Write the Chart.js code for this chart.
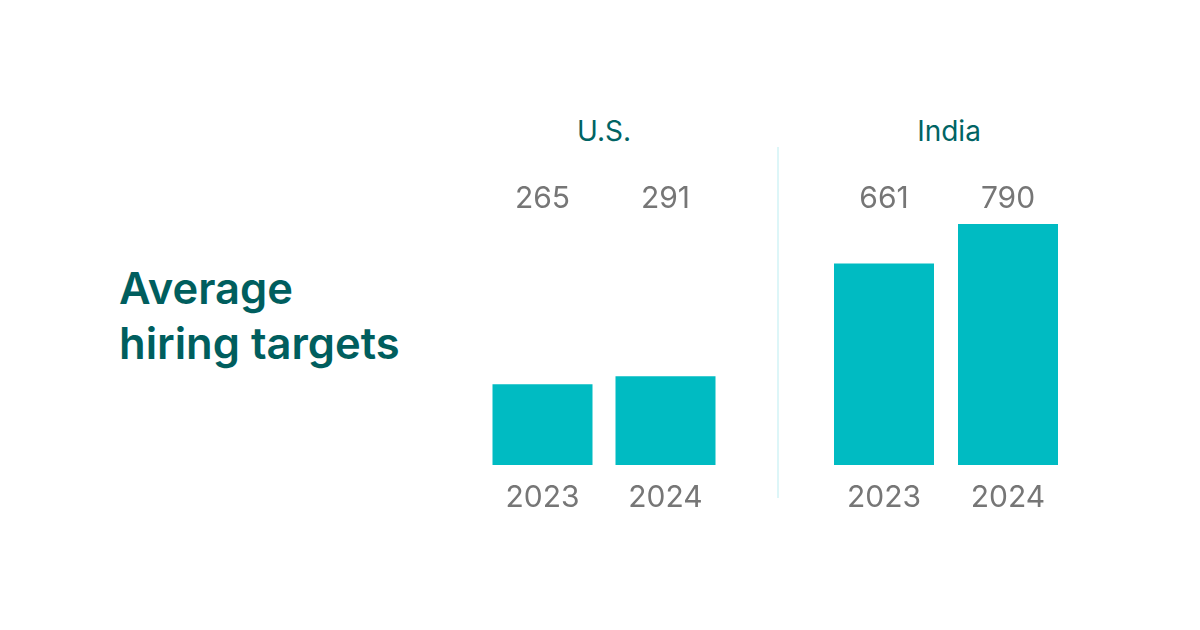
<!DOCTYPE html>
<html>
<head>
<meta charset="utf-8">
<script src="https://cdn.jsdelivr.net/npm/chart.js@4"></script>
<style>
  html, body { margin:0; padding:0; background:#ffffff; }
  body { width:1200px; height:630px; position:relative; overflow:hidden; font-family: Inter, "Noto Sans", sans-serif; }
  #title { position:absolute; left:119px; top:261px; font-size:43.5px; font-weight:600; color:#005E5E; line-height:55px; letter-spacing:0px; }
  .group { position:absolute; top:114px; font-size:28px; color:#006464; text-align:center; width:200px; }
  #divider { position:absolute; left:777px; top:147px; width:2px; height:351px; background:#DDF6F8; }
  canvas { position:absolute; }
</style>
</head>
<body>
<div id="title">Average<br>hiring targets</div>
<div class="group" id="g1"></div>
<div class="group" id="g2"></div>
<div id="divider"></div>
<canvas id="c1" width="246" height="371" style="left:481px; top:160px;"></canvas>
<canvas id="c2" width="248" height="371" style="left:822px; top:160px;"></canvas>
<script>
const groups = ["U.S.", "India"];
const years = ["2023", "2024"];
const usValues = [265, 291];
const indiaValues = [661, 790];
const yMax = 1000;

document.getElementById("g1").textContent = groups[0];
document.getElementById("g2").textContent = groups[1];
document.getElementById("g1").style.left = (604 - 100) + "px";
document.getElementById("g2").style.left = (949 - 100) + "px";

Chart.defaults.font.family = "Inter, 'Noto Sans', sans-serif";

const valueLabels = {
  id: "valueLabels",
  afterDatasetsDraw(chart) {
    const ctx = chart.ctx;
    const meta = chart.getDatasetMeta(0);
    ctx.save();
    ctx.font = "30px Inter, 'Noto Sans', sans-serif";
    ctx.fillStyle = "#767676";
    ctx.textAlign = "center";
    ctx.textBaseline = "middle";
    meta.data.forEach((bar, i) => {
      ctx.fillText(String(chart.data.datasets[0].data[i]), bar.x, chart.chartArea.top + 39);
    });
    ctx.restore();
  }
};

function makeChart(id, values, barPct) {
  return new Chart(document.getElementById(id), {
    type: "bar",
    data: {
      labels: years,
      datasets: [{
        data: values,
        backgroundColor: "#00BBC2",
        borderWidth: 0,
        barPercentage: barPct,
        categoryPercentage: 1.0
      }]
    },
    options: {
      responsive: false,
      animation: false,
      layout: { padding: 0 },
      plugins: { legend: { display: false }, tooltip: { enabled: false } },
      scales: {
        x: {
          grid: { display: false, drawTicks: false },
          border: { display: false },
          ticks: { color: "#767676", font: { size: 30 }, padding: 15, maxRotation: 0 }
        },
        y: {
          display: false,
          min: 0,
          max: yMax
        }
      }
    },
    plugins: [valueLabels]
  });
}

makeChart("c1", usValues, 100 / 123);
makeChart("c2", indiaValues, 100 / 124);
</script>
</body>
</html>
